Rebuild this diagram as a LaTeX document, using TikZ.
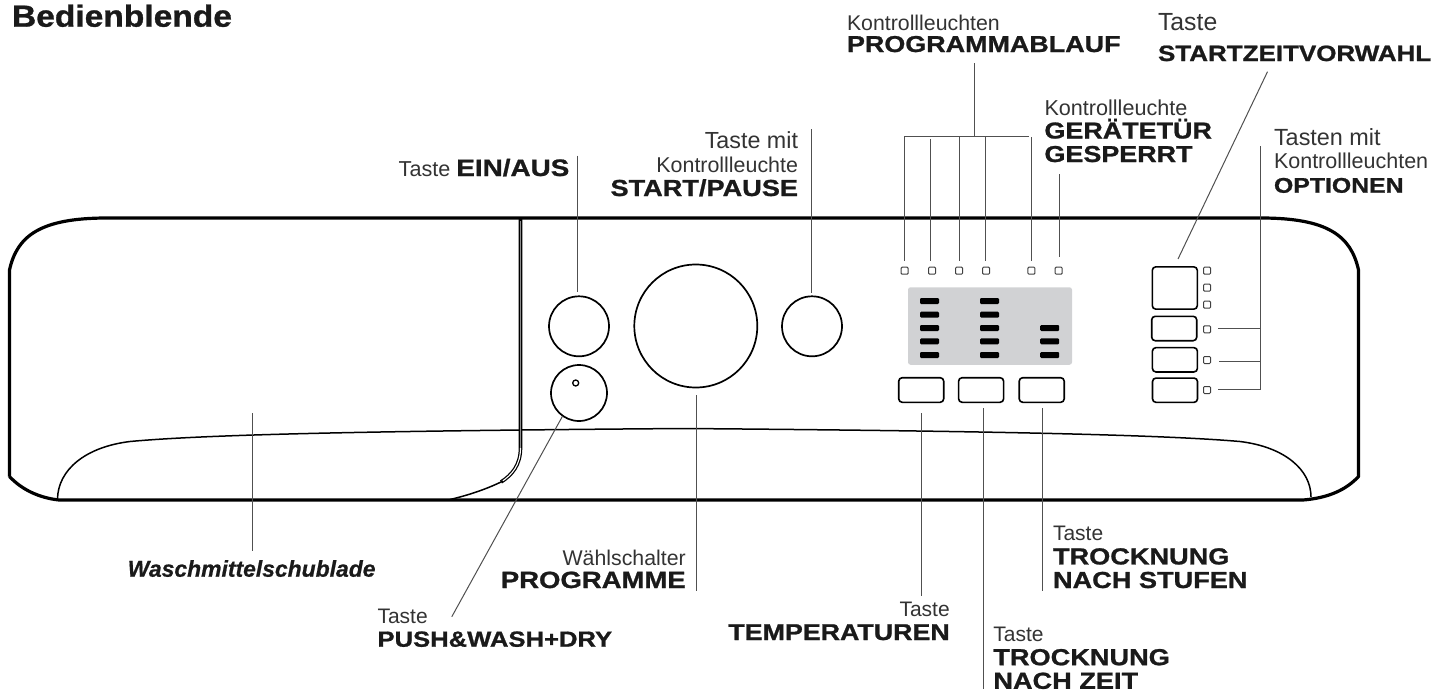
\documentclass[tikz,border=0pt]{standalone}
\usepackage{fontspec}
\setmainfont{Liberation Sans}
\newfontfamily\heavyf[FakeStretch=1.17,FakeBold=1.0]{Liberation Sans Bold}
\newfontfamily\titlef[FakeStretch=1.1,FakeBold=1.0]{Liberation Sans Bold}
\newfontfamily\heavyit[FakeBold=0.7]{Liberation Sans Bold Italic}
\newcommand{\lt}[2]{{\fontsize{#1}{10}\selectfont\color{lighttext}#2}}
\newcommand{\bd}[2]{{\heavyf\fontsize{#1}{10}\selectfont #2}}
\definecolor{lighttext}{HTML}{333333}
\definecolor{ink}{HTML}{1A1A1A}
\definecolor{leadercol}{HTML}{505050}
\definecolor{displaygrey}{HTML}{D1D2D4}
\tikzset{
  lbl/.style={inner sep=0pt,outer sep=0pt,text=ink,font=\fontsize{10}{#1}\selectfont},
  lblw/.style={lbl=#1,align=left,anchor=base west},
  lble/.style={lbl=#1,align=right,anchor=base east},
  outline/.style={draw=black,line width=3.2pt},
  swoosh/.style={draw=black,line width=1.5pt},
  knob/.style={circle,draw=black,line width=1.7pt,inner sep=0pt,outer sep=0pt,minimum size=#1},
  btn/.style={rectangle,draw=black,line width=1.6pt,rounded corners=3.5pt,inner sep=0pt,outer sep=0pt,minimum width=45pt,minimum height=#1},
  led/.style={rectangle,draw=black!75,line width=1pt,rounded corners=1pt,inner sep=0pt,outer sep=0pt,minimum size=7pt},
  bar/.style={rectangle,fill=black,rounded corners=1.2pt,inner sep=0pt,outer sep=0pt,minimum width=19pt,minimum height=6pt},
  leader/.style={draw=leadercol,line width=1pt},
}
\begin{document}
\begin{tikzpicture}[x=1pt,y=-1pt]
\useasboundingbox (0,0) rectangle (1445,691);
% panel outline
\draw[outline,line join=round] (9.5,476.5) -- (9.5,270) .. controls (17,236) and (40,218) .. (107,218)
  -- (1261,218) .. controls (1328,218) and (1351,236) .. (1358.5,270) -- (1358.5,476.5)
  .. controls (1346,490) and (1328,498) .. (1303,500) -- (59,500) .. controls (40,498) and (22,490) .. (9.5,476.5);
% lower swoosh
\draw[swoosh] (57.5,499) .. controls (58,470) and (85,447) .. (130,441.5)
  .. controls (200,435) and (350,431) .. (684,428.5)
  .. controls (1000,431) and (1165,435) .. (1240,441.5)
  .. controls (1285,447) and (1311,470) .. (1311,497);
% drawer divider
\draw[line width=3.6pt] (520.5,219) -- (520.5,448) .. controls (520.5,465) and (512,475) .. (501,482);
\draw[line width=1.3pt,draw=black!45] (520.5,221) -- (520.5,448);
\draw[line width=1.1pt,draw=white] (520.5,448) .. controls (520.5,465) and (512,475) .. (501,482);
\draw[line width=1.5pt] (503,481) .. controls (485,490) and (465,496) .. (450,499.5);
% knobs
\node[knob=60pt] (einaus) at (579,326.3) {};
\node[knob=56pt] (push) at (579,393) {};
\node[knob=6pt,line width=1.3pt] (pushdot) at (575.7,383) {};
\node[knob=123pt] (dial) at (695.8,326) {};
\node[knob=60pt] (start) at (812,326.3) {};
% display
\node[rectangle,fill=displaygrey,rounded corners=2.5pt,inner sep=0pt,minimum width=164pt,minimum height=77.5pt] (display) at (990,326) {};
\foreach \c/\x in {a/929.5,b/989.5,c/1049.7}
  \foreach \r/\y in {1/301,2/314.7,3/328,4/341.3,5/355}
    {\ifnum\r<3 \if\c c\else\node[bar] (bar\c\r) at (\x,\y) {};\fi\else\node[bar] (bar\c\r) at (\x,\y) {};\fi}
% lower buttons
\node[btn=24.6pt] (btemp) at (921.2,390) {};
\node[btn=24.6pt] (bzeit) at (981.1,390) {};
\node[btn=24.6pt] (bstufen) at (1041.7,390) {};
% right buttons
\node[btn=42.3pt] (bstart) at (1174.8,288) {};
\node[btn=24.4pt] (bopt1) at (1174.2,328.5) {};
\node[btn=24.3pt] (bopt2) at (1174.9,359.8) {};
\node[btn=24.3pt] (bopt3) at (1175,390.2) {};
% LEDs
\foreach \n/\x in {1/904.6,2/932,3/959,4/986,5/1031.4,6/1058.7}
  \node[led] (led\n) at (\x,270.7) {};
\foreach \n/\y in {1/270.7,2/287.7,3/304.7,4/329.3,5/360,6/390}
  \node[led] (rled\n) at (1207,\y) {};
% labels
\node[lblw=10] (title) at (12,26.7) {\titlef\fontsize{30.5}{30}\selectfont Bedienblende};
\node[lble=10] (leinaus) at (569.3,176) {\lt{21.6}{Taste }\bd{23.8}{EIN/AUS}};
\node[lble=23.7] (lstart) at (798,196) {\lt{23.3}{Taste mit}\\\lt{21.4}{Kontrollleuchte}\\\bd{23.2}{START/PAUSE}};
\node[lblw=22] (lprog) at (847,52) {\lt{21.3}{Kontrollleuchten}\\\bd{23}{PROGRAMMABLAUF}};
\node[lblw=31] (lzeitv) at (1158,61) {\lt{24.8}{Taste}\\\bd{22.2}{STARTZEITVORWAHL}};
\node[lblw=23.5] (ltuer) at (1044.5,162) {\lt{21.6}{Kontrollleuchte}\\\bd{23}{GERÄTETÜR}\\\bd{23}{GESPERRT}};
\node[lblw=23.8] (lopt) at (1274,192.7) {\lt{23.4}{Tasten mit}\\\lt{21.5}{Kontrollleuchten}\\\bd{21.2}{OPTIONEN}};
\node[lble=10] (lwasch) at (375.5,576.7) {\heavyit\fontsize{22.9}{24}\selectfont Waschmittelschublade};
\node[lblw=23.7] (lpush) at (377.5,646.7) {\lt{21}{Taste}\\\bd{21.9}{PUSH\&WASH+DRY}};
\node[lble=23] (lprogr) at (685.7,588) {\lt{21.3}{Wählschalter}\\\bd{23.5}{PROGRAMME}};
\node[lble=23.3] (ltemp) at (949.7,640) {\lt{21}{Taste}\\\bd{22.9}{TEMPERATUREN}};
\node[lblw=23.6] (lstufen) at (1053,588) {\lt{21}{Taste}\\\bd{23.2}{TROCKNUNG}\\\bd{23.2}{NACH STUFEN}};
\node[lblw=23.6] (lzeit) at (993.4,688.8) {\lt{21}{Taste}\\\bd{23.2}{TROCKNUNG}\\\bd{23.2}{NACH ZEIT}};
% leader ends
\coordinate (e1) at (577.7,155.7); \coordinate (e2) at (577.7,291.7);
\coordinate (s1) at (811,129); \coordinate (s2) at (811,293);
\coordinate (p0) at (974,63); \coordinate (p1) at (974,136);
\coordinate (pl) at (904.8,136); \coordinate (pr) at (1029,136);
\coordinate (l1) at (904.8,261); \coordinate (l2t) at (930.7,139); \coordinate (l2) at (930.7,261);
\coordinate (l3t) at (959.6,136); \coordinate (l3) at (959.6,261);
\coordinate (l4t) at (985.8,136); \coordinate (l4) at (985.8,261);
\coordinate (l5t) at (1031,137); \coordinate (l5) at (1031,261);
\coordinate (g1) at (1059,174); \coordinate (g2) at (1059,257);
\coordinate (z1) at (1267.5,71.7); \coordinate (z2) at (1178,259);
\coordinate (o0) at (1260.5,146); \coordinate (o1) at (1260.5,328); \coordinate (o2) at (1260.5,361); \coordinate (o3) at (1260.5,389);
\coordinate (o1s) at (1218,328); \coordinate (o2s) at (1219,361); \coordinate (o3s) at (1218,389);
\coordinate (w1) at (252.5,413); \coordinate (w2) at (252.5,550.7);
\coordinate (ph1) at (562.6,416); \coordinate (ph2) at (451.8,616.7);
\coordinate (d1) at (696.7,395); \coordinate (d2) at (696.7,590.7);
\coordinate (t1) at (921.5,413); \coordinate (t2) at (921.5,596);
\coordinate (u1) at (983,408); \coordinate (u2) at (983,689);
\coordinate (v1) at (1042,408); \coordinate (v2) at (1042,590.7);
% leaders
\draw[leader] (e1) -- (e2);
\draw[leader] (s1) -- (s2);
\draw[leader] (p0) -- (p1);
\draw[leader] (l1) -- (pl) -- (pr);
\draw[leader] (l2t) -- (l2);
\draw[leader] (l3t) -- (l3);
\draw[leader] (l4t) -- (l4);
\draw[leader] (l5t) -- (l5);
\draw[leader] (g1) -- (g2);
\draw[leader] (z1) -- (z2);
\draw[leader] (o0) -- (o3) -- (o3s);
\draw[leader] (o1s) -- (o1);
\draw[leader] (o2s) -- (o2);
\draw[leader] (w1) -- (w2);
\draw[leader] (ph1) -- (ph2);
\draw[leader] (d1) -- (d2);
\draw[leader] (t1) -- (t2);
\draw[leader] (u1) -- (u2);
\draw[leader] (v1) -- (v2);
\end{tikzpicture}
\end{document}
